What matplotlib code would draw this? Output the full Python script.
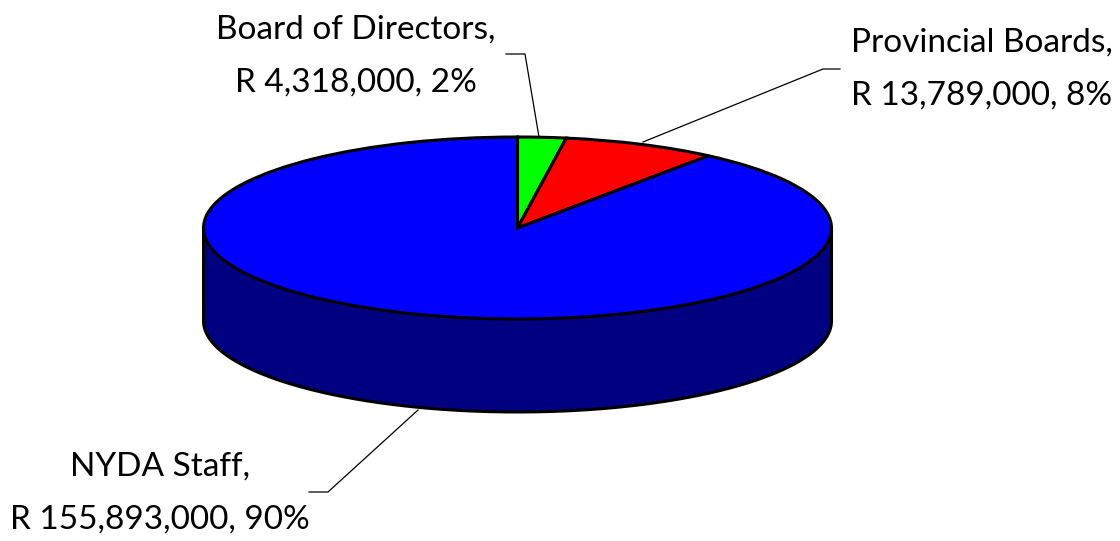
import numpy as np
import matplotlib
matplotlib.use('Agg')
import matplotlib.pyplot as plt

# Values from the chart labels
labels = ['Board of Directors,\nR 4,318,000, 2%',
          'Provincial Boards,\nR 13,789,000, 8%',
          'NYDA Staff,\nR 155,893,000, 90%']
values = [4318000, 13789000, 155893000]
colors = ['#00ff00', '#ff0000', '#0000ff']
side_color = '#000080'

W, H = 1120, 541
cx, cy, rx, ry = 517.5, 228, 314, 91
depth = 93 / ry
edge_w = 2.2

plt.rcParams['font.family'] = ['Lato', 'DejaVu Sans']

fig = plt.figure(figsize=(W / 100, H / 100), dpi=100)
ax = fig.add_axes([0, 0, 1, 1])

# Side of the disc, lower half of the ellipse pushed down
t = np.linspace(np.pi, 2 * np.pi, 300)
xs = np.cos(t)
ys = np.sin(t)
ax.fill_between(xs, ys, ys - depth, color=side_color, lw=0, zorder=1)
outline_x = np.concatenate([[-1], xs, [1]])
outline_y = np.concatenate([[0], ys - depth, [0]])
ax.plot(outline_x, outline_y, color='k', lw=edge_w, zorder=2, solid_joinstyle='round')

wedges, _ = ax.pie(values, colors=colors, startangle=90, counterclock=False,
                   radius=1, center=(0, 0),
                   wedgeprops={'edgecolor': 'k', 'linewidth': edge_w, 'zorder': 3})

# pie forces a round shape, squash it to the ellipse
ax.set_aspect('auto')
ax.set_xlim(-cx / rx, (W - cx) / rx)
ax.set_ylim((cy - H) / ry, cy / ry)
ax.axis('off')


def to_fig(x, y):
    return x / W, 1 - y / H


# Leader lines
leaders = [[(539, 137), (525, 54), (506, 54)],
           [(643, 142), (823, 69), (840, 69)],
           [(418, 410), (328, 492), (309, 492)]]
for pts in leaders:
    xy = [to_fig(*p) for p in pts]
    fig.add_artist(plt.Line2D([p[0] for p in xy], [p[1] for p in xy], color='k', lw=0.9))

label_pos = [(356, 56), (982, 69), (160, 493)]
for txt, (x, y) in zip(labels, label_pos):
    fx, fy = to_fig(x, y)
    fig.text(fx, fy, txt, ha='center', va='center', fontsize=24, linespacing=1.95)

fig.savefig('out.png', dpi=100)
